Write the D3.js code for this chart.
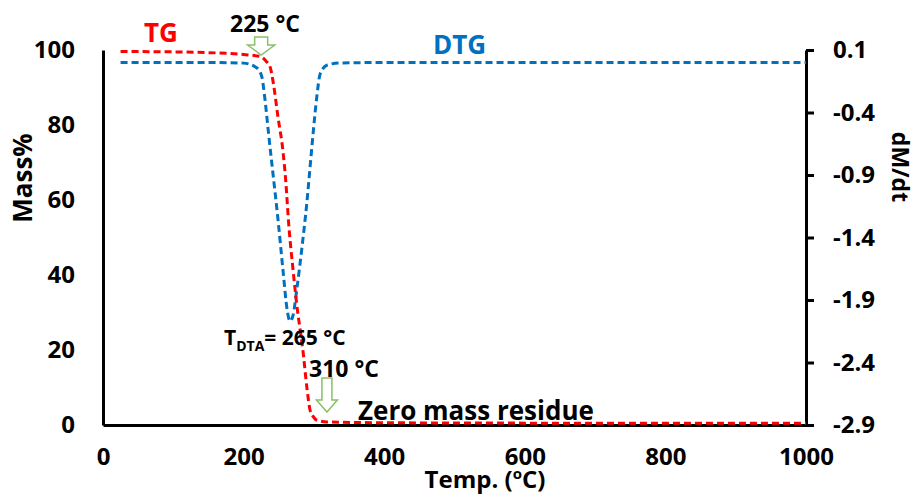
<!DOCTYPE html>
<html>
<head>
<meta charset="utf-8">
<script src="https://cdn.jsdelivr.net/npm/d3@7"></script>
<style>
    body { margin: 0; background: #fff; }
    svg text { font-family: "Open Sans", Lato, sans-serif; font-weight: bold; }
</style>
</head>
<body>
<script>
    // TG curve (temperature in C, mass %)
    const tgTemp = [25, 100, 150, 200, 225, 232, 238, 242, 249, 256, 260, 264, 270, 277, 280, 284, 290, 294.5, 300, 304, 319, 400, 600, 1000]
    const tgMass = [99.6, 99.5, 99.3, 98.8, 98.2, 97, 95.3, 91.5, 82, 73, 65, 54, 42, 30, 26, 20.5, 10, 4, 2, 1.3, 0.8, 0.6, 0.5, 0.5]

    // DTG curve (temperature in C, dM/dt)
    const dtgTemp = [25, 150, 200, 219, 226, 230, 235, 240, 242, 249, 256, 262, 266, 270, 276, 283, 290, 294.5, 299, 304, 309, 319, 337, 400, 1000]
    const dtgValue = [0, 0, -0.005, -0.044, -0.116, -0.276, -0.54, -0.8, -0.9, -1.26, -1.66, -1.98, -2.07, -2.03, -1.8, -1.48, -1.12, -0.84, -0.56, -0.28, -0.09, -0.02, -0.004, 0, 0]

    const xTicks = [0, 200, 400, 600, 800, 1000]
    const massTicks = [0, 20, 40, 60, 80, 100]
    const dtgTicks = [0.1, -0.4, -0.9, -1.4, -1.9, -2.4, -2.9]

    const svgWidth = 917
    const svgHeight = 496
    const plotLeft = 103
    const plotRight = 806
    const plotTop = 50
    const plotBottom = 425

    const svg = d3.select("body").append("svg")
        .attr("width", svgWidth)
        .attr("height", svgHeight)

    const xScale = d3.scaleLinear().domain([0, 1000]).range([plotLeft, plotRight])
    const massScale = d3.scaleLinear().domain([0, 100]).range([plotBottom, plotTop])
    const dtgScale = d3.scaleLinear().domain([-2.9, 0.1]).range([plotBottom, plotTop])

    /* axes */
    const xAxis = d3.axisBottom(xScale).tickValues(xTicks).tickFormat(d3.format("d"))
        .tickSize(0).tickSizeOuter(0).tickPadding(23)
    svg.append("g")
        .attr("transform", `translate(0, ${plotBottom})`)
        .call(xAxis)

    const massAxis = d3.axisLeft(massScale).tickValues(massTicks).tickSize(0).tickSizeOuter(0).tickPadding(28)
    svg.append("g")
        .attr("transform", `translate(${plotLeft}, 0)`)
        .call(massAxis)

    const dtgAxis = d3.axisRight(dtgScale).tickValues(dtgTicks).tickFormat(d => d.toFixed(1))
        .tickSize(8).tickSizeOuter(0).tickPadding(19)
    svg.append("g")
        .attr("transform", `translate(${plotRight}, 0)`)
        .call(dtgAxis)

    svg.selectAll(".domain").attr("stroke", "#000").attr("stroke-width", 3)
    svg.selectAll(".tick line").attr("stroke", "#000").attr("stroke-width", 3)
    svg.selectAll(".tick text").attr("font-size", 24).attr("fill", "#000")
        .attr("font-family", "'Open Sans', sans-serif").attr("font-weight", "bold")

    /* curves */
    const tgPoints = tgTemp.map((t, i) => [t, tgMass[i]])
    const dtgPoints = dtgTemp.map((t, i) => [t, dtgValue[i]])

    const tgLine = d3.line()
        .x(d => xScale(d[0]))
        .y(d => massScale(d[1]))
        .curve(d3.curveMonotoneX)

    const dtgLine = d3.line()
        .x(d => xScale(d[0]))
        .y(d => dtgScale(d[1]))
        .curve(d3.curveMonotoneX)

    svg.append("path")
        .attr("d", dtgLine(dtgPoints))
        .attr("fill", "none")
        .attr("stroke", "#0070c0")
        .attr("stroke-width", 3)
        .attr("stroke-dasharray", "7,4")

    svg.append("path")
        .attr("d", tgLine(tgPoints))
        .attr("fill", "none")
        .attr("stroke", "#ff0000")
        .attr("stroke-width", 3)
        .attr("stroke-dasharray", "7,4")

    /* hollow down arrows */
    const arrow = (cx, y0, h, shaftW, headW, headH) => {
        const p = d3.path()
        p.moveTo(cx - shaftW / 2, y0)
        p.lineTo(cx + shaftW / 2, y0)
        p.lineTo(cx + shaftW / 2, y0 + h - headH)
        p.lineTo(cx + headW / 2, y0 + h - headH)
        p.lineTo(cx, y0 + h)
        p.lineTo(cx - headW / 2, y0 + h - headH)
        p.lineTo(cx - shaftW / 2, y0 + h - headH)
        p.closePath()
        svg.append("path")
            .attr("d", p.toString())
            .attr("fill", "#fff")
            .attr("stroke", "#8cbf6a")
            .attr("stroke-width", 1.5)
    }
    arrow(xScale(225), 37, 18, 13, 27, 10)
    arrow(xScale(310) + 6, 378, 34, 10, 21, 12)

    /* labels */
    svg.append("text").attr("x", 144).attr("y", 42).attr("font-size", 26).attr("fill", "#ff0000").text("TG")
    svg.append("text").attr("x", 433).attr("y", 54).attr("font-size", 26).attr("fill", "#0070c0").text("DTG")
    svg.append("text").attr("x", 230).attr("y", 32).attr("font-size", 23).text("225 °C")

    const tdta = svg.append("text").attr("x", 224).attr("y", 345).attr("font-size", 21)
    tdta.append("tspan").text("T")
    tdta.append("tspan").attr("font-size", 14).attr("dy", 6).text("DTA")
    tdta.append("tspan").attr("dy", -6).text("= 265 °C")

    svg.append("text").attr("x", 309).attr("y", 377).attr("font-size", 23).text("310 °C")
    svg.append("text").attr("x", 358).attr("y", 420).attr("font-size", 26).text("Zero mass residue")

    const xTitle = svg.append("text").attr("x", 485).attr("y", 488).attr("font-size", 24).attr("text-anchor", "middle")
    xTitle.append("tspan").text("Temp. (")
    xTitle.append("tspan").attr("font-size", 15).attr("dy", -9).text("o")
    xTitle.append("tspan").attr("dy", 9).text("C)")

    svg.append("text")
        .attr("transform", "translate(32, 178) rotate(-90)")
        .attr("text-anchor", "middle")
        .attr("font-size", 26)
        .text("Mass%")

    svg.append("text")
        .attr("transform", "translate(892, 167) rotate(90)")
        .attr("text-anchor", "middle")
        .attr("font-size", 23)
        .text("dM/dt")
</script>
</body>
</html>
